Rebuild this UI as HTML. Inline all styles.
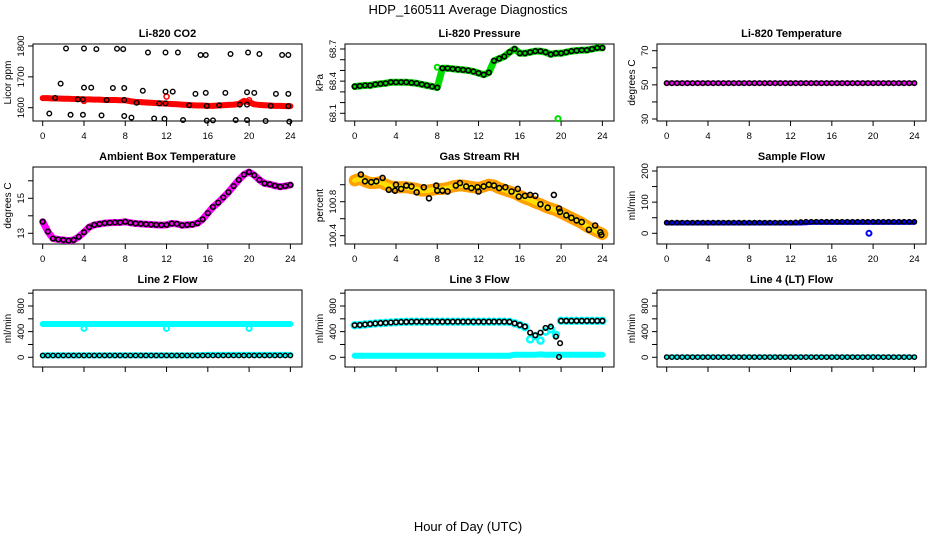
<!DOCTYPE html>
<html><head><meta charset="utf-8"><style>
body{margin:0;background:#fff;}
svg{display:block;font-family:"Liberation Sans",sans-serif;}
</style></head><body>
<svg id="chart" width="936" height="540" viewBox="0 0 936 540">
<text x="468" y="14" text-anchor="middle" font-size="13">HDP_160511  Average Diagnostics</text>
<text x="468" y="531" text-anchor="middle" font-size="13">Hour of Day (UTC)</text>
</svg>
<script>
const hours=[0,0.5,1,1.5,2,2.5,3,3.5,4,4.5,5,5.5,6,6.5,7,7.5,8,8.5,9,9.5,10,10.5,11,11.5,12,12.5,13,13.5,14,14.5,15,15.5,16,16.5,17,17.5,18,18.5,19,19.5,20,20.5,21,21.5,22,22.5,23,23.5,24];
const xTicks=[0,4,8,12,16,20,24];
// CO2
const co2T=[2.26,4.0,5.2,7.2,7.8,10.2,11.9,13.1,15.3,15.8,18.2,19.9,21.0,23.2,23.8,1.74,4.0,4.7,6.8,7.9,9.7,11.9,12.6,14.8,15.8,17.7,19.8,20.5,22.6,23.8,1.2,3.4,3.9,6.2,7.9,9.1,11.3,11.9,14.2,15.9,17.1,19.1,19.8,22.1,23.8,0.64,2.7,3.9,5.7,7.9,8.6,10.8,11.8,13.6,15.9,16.5,18.7,19.8,21.6,23.9];
const co2V=[1792,1792,1790,1791,1790,1779,1779,1779,1771,1771,1774,1779,1774,1771,1771,1678,1665,1665,1664,1664,1655,1652,1652,1645,1648,1648,1650,1648,1645,1645,1632,1627,1627,1625,1625,1616,1614,1614,1608,1606,1608,1610,1610,1606,1605,1581,1577,1577,1575,1573,1568,1565,1564,1560,1558,1559,1560,1560,1557,1555];
const co2Band=[1631,1631,1630,1630,1629,1629,1628,1628,1627,1627,1626,1626,1625,1625,1625,1624,1624,1621,1619,1618,1617,1616,1615,1614,1613,1612,1611,1610,1609,1608,1607,1607,1606,1606,1607,1608,1609,1610,1612,1622,1618,1611,1609,1608,1607,1606,1606,1605,1605];
// Pressure
const presV=[68.35,68.355,68.36,68.36,68.37,68.375,68.38,68.39,68.39,68.39,68.39,68.385,68.38,68.37,68.36,68.35,68.34,68.52,68.52,68.515,68.51,68.505,68.5,68.49,68.475,68.46,68.48,68.59,68.61,68.63,68.67,68.70,68.66,68.66,68.67,68.68,68.68,68.67,68.65,68.66,68.66,68.67,68.68,68.685,68.69,68.69,68.70,68.71,68.71];
const presOutT=[8.0,19.7];
const presOutV=[68.53,68.05];
// Li-820 temperature
const tempV=[51,51,51,51,51,51,51,51,51,51,51,51,51,51,51,51,51,51,51,51,51,51,51,51,51,51,51,51,51,51,51,51,51,51,51,51,51,51,51,51,51,51,51,51,51,51,51,51,51];
// Ambient box temperature
const ambV=[13.66,13.1,12.7,12.65,12.62,12.58,12.62,12.8,13.06,13.35,13.48,13.53,13.58,13.6,13.62,13.62,13.66,13.6,13.56,13.54,13.52,13.5,13.48,13.47,13.48,13.56,13.54,13.46,13.48,13.5,13.58,13.8,14.15,14.5,14.75,15.05,15.35,15.7,16.05,16.35,16.5,16.32,16.05,15.85,15.8,15.72,15.66,15.7,15.76];
// Gas stream RH
const rhBand=[101.05,101.07,101.04,101.02,101.02,101.03,101.0,100.98,100.97,100.97,100.97,100.96,100.95,100.93,100.93,100.94,100.95,100.95,100.96,100.98,100.99,100.99,100.98,100.97,100.96,100.98,101.0,100.99,100.96,100.94,100.92,100.90,100.87,100.84,100.82,100.79,100.77,100.74,100.72,100.7,100.67,100.64,100.61,100.58,100.55,100.51,100.48,100.45,100.42];
const rhT=[0.6,1,1.6,2.1,2.7,3.3,3.9,4,4.5,5,5.5,6,6.7,7.2,7.9,8,8.5,9,9.8,10.2,10.8,11.3,11.9,12,12.5,13,13.5,14,14.6,15.2,15.8,15.9,16.5,17,17.5,18,18.7,19.3,19.8,19.9,20.5,21,21.5,22,22.7,23.3,23.8,23.9];
const rhV=[101.12,101.04,101.03,101.04,101.08,100.94,100.93,101.0,100.95,100.99,100.98,100.91,100.97,100.84,100.99,100.93,100.93,100.92,100.99,101.02,100.98,100.96,100.97,100.92,100.98,101.0,100.99,100.96,100.97,100.92,100.95,100.86,100.87,100.88,100.87,100.77,100.73,100.88,100.72,100.68,100.64,100.61,100.58,100.56,100.47,100.52,100.44,100.41];
// Sample flow
const sfBlue=[33,33,33,33,33,33,33,33,33,33,33,33,33,33,33,33,33,33,33,33,33,33,33,33,33,33,33,34,35,35,35,35,35,35,35,35,35,35,35,35,35,35,35,35,35,35,35,35,35];
const sfBlack=[34,34,34,34,34,34,34,34,34,34,34,34,34,34,34,34,34,34,34,34,34,34,34,34,34,35,36,37,37,37,37,37,37,37,37,37,37,37,37,37,37,37,37,37,37,37,37,37,37];
const sfOutT=[19.6];
const sfOutV=[0];
// Line 2 flow
const l2High=[520,520,520,520,520,520,520,520,520,520,520,520,520,520,520,520,520,520,520,520,520,520,520,520,520,520,520,520,520,520,520,520,520,520,520,520,520,520,520,520,520,520,520,520,520,520,520,520,520];
const l2DipT=[4,12,20];
const l2DipV=[450,450,450];
const l2Low=[30,30,30,30,30,30,30,30,30,30,30,30,30,30,30,30,30,30,30,30,30,30,30,30,30,30,30,30,30,30,30,35,38,38,38,38,38,38,38,38,38,38,38,38,38,38,38,38,38];
const l2Black=[28,28,28,28,28,28,28,28,28,28,28,28,28,28,28,28,28,28,28,28,28,28,28,28,28,28,28,28,28,28,28,28,28,28,28,28,28,28,28,28,28,28,28,28,28,28,28,28,28];
// Line 3 flow
const l3Black=[500,504,512,520,527,533,537,542,547,550,552,554,555,555,555,555,555,555,555,555,555,555,555,555,555,555,555,555,555,555,552,530,504,478,384,343,384,458,478,322,568,568,568,568,568,568,568,568,568];
const l3Cyan=[500,504,512,520,527,533,537,542,547,550,552,554,555,555,555,555,555,555,555,555,555,555,555,555,555,555,555,555,555,555,552,530,504,470,280,330,260,400,440,350,570,568,568,568,568,568,568,568,568];
const l3Low=[25,25,25,25,25,25,25,25,25,25,25,25,25,25,25,25,25,25,25,25,25,25,25,25,25,25,25,25,25,25,25,40,40,40,40,40,45,40,40,40,40,40,40,40,40,40,40,40,40];
const l3OutT=[19.8,19.9];
const l3OutV=[5,220];
// Line 4 flow
const l4Cyan=[5,5,5,5,5,5,5,5,5,5,5,5,5,5,5,5,5,5,5,5,5,5,5,5,5,5,5,5,5,5,5,5,5,5,5,5,5,5,5,5,8,5,5,5,5,5,5,5,5];
const l4Black=[3,3,3,3,3,3,3,3,3,3,3,3,3,3,3,3,3,3,3,3,3,3,3,3,3,3,3,3,3,3,3,3,3,3,3,3,3,3,3,3,3,3,3,3,3,3,3,3,3];

const svg=document.getElementById('chart');
const NS='http://www.w3.org/2000/svg';
function mk(tag,attrs,parent){const e=document.createElementNS(NS,tag);for(const k in attrs)e.setAttribute(k,attrs[k]);(parent||svg).appendChild(e);return e;}

function panel(col,row,title,ylab,ymin,ymax,yminPx,ymaxPx,ticks,labels,showX){
  const L=col*312+33,T=[44,167,290][row],W=269,H=77;
  const g=mk('g',{});
  
  
  const xs=t=>L+9.7+t*10.32;
  const ys=v=>T+yminPx+(v-ymin)*(ymaxPx-yminPx)/(ymax-ymin);
  const box=mk('rect',{x:L,y:T,width:W,height:H,fill:'none',stroke:'#000','stroke-width':1},g);
  
  
  const tt=mk('text',{x:L+W/2,y:T-7,'text-anchor':'middle','font-size':11,'font-weight':'bold'},g);
  tt.textContent=title;
  
  
  const yl=mk('text',{x:0,y:0,transform:`translate(${col*312+11},${T+H/2}) rotate(-90)`,'text-anchor':'middle','font-size':10},g);
  yl.textContent=ylab;
  
  
  ticks.forEach(v=>{
    const y=ys(v);
    mk('line',{x1:L-5,x2:L,y1:y,y2:y,stroke:'#000'},g);
    if(labels.indexOf(v)>=0){
      const tl=mk('text',{x:0,y:0,transform:`translate(${L-9},${y}) rotate(-90)`,'text-anchor':'middle','font-size':9.5},g);
      tl.textContent=String(v);
      
      
    }
  });
  xTicks.forEach(t=>{
    const x=xs(t);
    mk('line',{x1:x,x2:x,y1:T+H,y2:T+H+5,stroke:'#000'},g);
    if(showX){
      const xl=mk('text',{x:x,y:T+H+18,'text-anchor':'middle','font-size':9.5},g);
      xl.textContent=String(t);
      
      
    }
  });
  return {g,xs,ys};
}
function band(p,vals,color,w,name){
  const pl=mk('polyline',{points:hours.map((t,i)=>p.xs(t)+','+p.ys(vals[i])).join(' '),fill:'none',stroke:color,'stroke-width':w,'stroke-linejoin':'round','stroke-linecap':'round'},p.g);
  
  
}
function pts(p,ts,vals,color,r,sw,name){
  const g=mk('g',{},p.g);
  
  
  ts.forEach((t,i)=>mk('circle',{cx:p.xs(t),cy:p.ys(vals[i]),r:r,fill:'none',stroke:color,'stroke-width':sw},g));
}
const BK='#000';
let p;
p=panel(0,0,'Li-820 CO2','Licor ppm',1600,1800,63.7,2,[1600,1700,1800],[1600,1700,1800],true);
band(p,co2Band,'#ff0000',6,'co2-red-series');
pts(p,[4,12,20],[1622,1636,1624],'#ff0000',2.5,1.5,'co2-red-points');
pts(p,co2T,co2V,BK,2.3,1.4,'co2-black-points');

p=panel(1,0,'Li-820 Pressure','kPa',68.1,68.7,69.3,5,[68.1,68.2,68.3,68.4,68.5,68.6,68.7],[68.1,68.4,68.7],true);
band(p,presV,'#00dd00',7,'pressure-green-series');
pts(p,presOutT,presOutV,'#00dd00',2.5,2,'pressure-green-outliers');
pts(p,hours,presV,BK,2.3,1.6,'pressure-black-points');

p=panel(2,0,'Li-820 Temperature','degrees C',30,70,75,6.7,[30,40,50,60,70],[30,50,70],true);
band(p,tempV,'#ff00ff',5,'temperature-magenta-series');
pts(p,hours,tempV,BK,2.3,1.5,'temperature-black-points');

p=panel(0,1,'Ambient Box Temperature','degrees C',13,15,66.3,31.3,[13,14,15,16],[13,15],true);
band(p,ambV,'#ff00ff',7,'ambient-magenta-series');
pts(p,hours,ambV,BK,2.3,1.6,'ambient-black-points');

p=panel(1,1,'Gas Stream RH','percent',100.4,100.8,68.7,34.7,[100.4,100.6,100.8,101.0],[100.4,100.8],true);
band(p,rhBand,'#ffa000',12,'rh-orange-band');
band(p,rhBand,'#ffe000',5,'rh-yellow-core');
pts(p,rhT,rhV,BK,2.5,1.6,'rh-black-points');

p=panel(2,1,'Sample Flow','ml/min',0,200,66.3,4,[0,50,100,150,200],[0,100,200],true);
band(p,sfBlue,'#0000ff',5,'sample-flow-blue-series');
pts(p,sfOutT,sfOutV,'#0000ff',2.5,2,'sample-flow-blue-outlier');
pts(p,hours,sfBlack,BK,2.2,1.4,'sample-flow-black-points');

p=panel(0,2,'Line 2 Flow','ml/min',0,800,67.3,16,[0,200,400,600,800,1000],[0,400,800],false);
band(p,l2High,'#00ffff',6,'line2-cyan-high');
pts(p,l2DipT,l2DipV,'#00ffff',2.5,2,'line2-cyan-dips');
band(p,l2Low,'#00ffff',6,'line2-cyan-low');
pts(p,hours,l2Black,BK,2.2,1.4,'line2-black-points');

p=panel(1,2,'Line 3 Flow','ml/min',0,800,67.3,16,[0,200,400,600,800,1000],[0,400,800],false);
band(p,l3Low,'#00ffff',6,'line3-cyan-low');
pts(p,hours,l3Cyan,'#00ffff',3,2.5,'line3-cyan-points');
pts(p,l3OutT,l3OutV,BK,2.3,1.5,'line3-black-outliers');
pts(p,hours,l3Black,BK,2.3,1.6,'line3-black-points');

p=panel(2,2,'Line 4 (LT) Flow','ml/min',0,800,67.3,16,[0,200,400,600,800,1000],[0,400,800],false);
band(p,l4Cyan,'#00ffff',5,'line4-cyan-series');
pts(p,hours,l4Black,BK,2.2,1.4,'line4-black-points');
</script>
</body></html>
